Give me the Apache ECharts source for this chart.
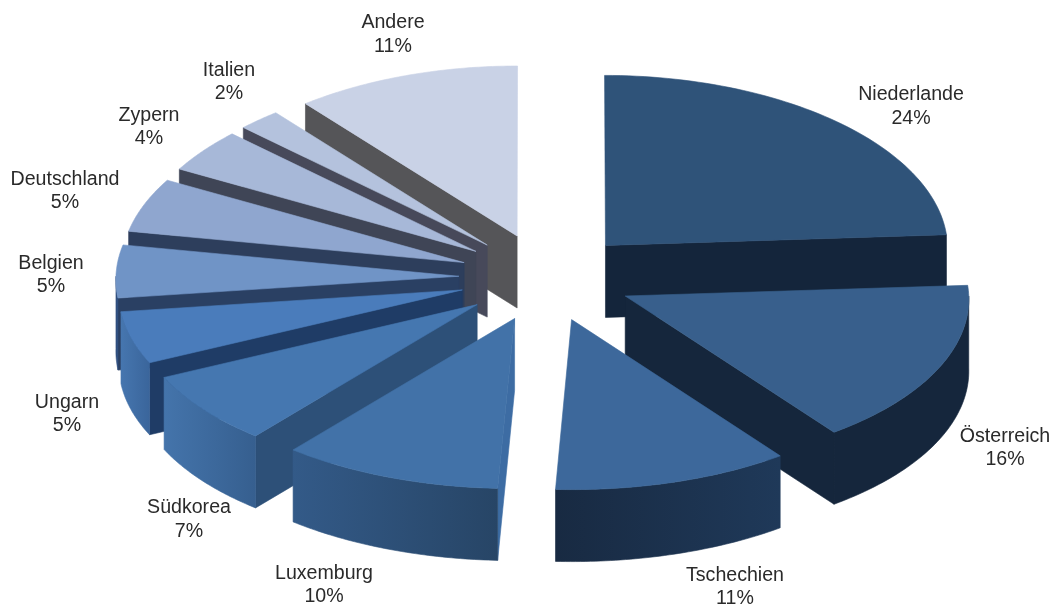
<!DOCTYPE html>
<html>
<head>
<meta charset="utf-8">
<style>html,body{margin:0;padding:0;background:#fff}#c{width:1052px;height:604px}</style>
<script src="https://cdn.jsdelivr.net/npm/echarts@6/dist/echarts.min.js"></script>
</head>
<body>
<div id="c"></div>
<script>
// Data (shares; labels show them rounded)
const categories = ['Niederlande','Österreich','Tschechien','Luxemburg','Südkorea','Ungarn','Belgien','Deutschland','Zypern','Italien','Andere'];
const shares = [24,15.8,10.95,10.2,7,5,5,5.1,4.1,2.05,10.8];

// Appearance
const topColors  = ['#2f5379','#385f8c','#3d689b','#4272a8','#4577b0','#4a7cbb','#7094c6','#8fa6cf','#a7b8d8','#b4c2dd','#c9d2e6'];
const rimColors  = [['#14253b','#14253b'],['#15263c','#15263c'],['#1f3959','#182a42'],['#335a88','#274566'],['#4474ab','#365f8f'],['#4676af','#3a659b'],['#2f4f7f','#2f4f7f'],['#6f86ad','#6f86ad'],['#7e8fb0','#7e8fb0'],['#8a97b2','#8a97b2'],['#9aa4bb','#9aa4bb']];
const faceColors = ['#14253b','#15263c','#1a2d47','#3d6ca3','#2d5078','#1f3c66','#2a4063','#2d3e5c','#3f4556','#47495a','#555558'];
const labelCenters = [[911,106.5],[1005,448],[735,587],[324,585],[189,519.5],[67,414],[51,275],[65,191],[149,127],[229,82],[393,34.5]];

// Projection of the pie
const cx = 546, cy = 277.5, rx = 343, ry = 170, depth = 72;
const explodeX = 0.254, explodeY = 0.262, perspective = 0.015;
const total = shares.reduce((a,b)=>a+b,0);
const deg = Math.PI/180;
const starts = []; { let s = 0; shares.forEach(v => { starts.push(s/total*360); s += v; }); }
function geom(i){
  const a0 = starts[i], a1 = a0 + shares[i]/total*360, m = (a0+a1)/2*deg;
  const ax = cx + explodeX*rx*Math.sin(m), ay = cy - explodeY*168*Math.cos(m);
  const proj = (x,y,dz)=>[cx + (x-cx)*(1+perspective*(y-cy)/ry), y + (dz||0)];
  const pt = (a,dz)=>proj(ax + rx*Math.sin(a*deg), ay - ry*Math.cos(a*deg), dz);
  const apex = dz=>proj(ax,ay,dz);
  return {a0,a1,ay,pt,apex};
}
const drawOrder = categories.map((_,i)=>i).sort((p,q)=>geom(p).ay-geom(q).ay);

function solid(points, fill, z2){
  return {type:'polygon',z2,shape:{points},style:{fill,stroke:fill,lineWidth:0.6}};
}
function renderSlice(params, api){
  const i = api.value(0), g = geom(i), rank = drawOrder.indexOf(i)*10;
  const kids = [];
  const apex=g.apex(), apexB=g.apex(depth);
  // only the radial face that looks towards the viewer
  if (g.a1 <= 180) kids.push(solid([apex,g.pt(g.a1),g.pt(g.a1,depth),apexB], faceColors[i], rank));
  if (g.a0 >= 180) kids.push(solid([apex,g.pt(g.a0),g.pt(g.a0,depth),apexB], faceColors[i], rank));
  const r0 = Math.max(g.a0,90), r1 = Math.min(g.a1,270);
  if (r1 > r0){
    const up=[], down=[];
    for (let k=0;k<=48;k++){ const a=r0+(r1-r0)*k/48; up.push(g.pt(a)); down.unshift(g.pt(a,depth)); }
    const c = rimColors[i];
    const fill = {type:'linear',x:0,y:0,x2:1,y2:0,colorStops:
      (g.a0+g.a1)/2<180 ? [{offset:0,color:c[1]},{offset:1,color:c[0]}] : [{offset:0,color:c[0]},{offset:1,color:c[1]}]};
    kids.push(solid(up.concat(down), fill, rank+2));
  }
  const arc=[apex];
  for (let k=0;k<=64;k++) arc.push(g.pt(g.a0+(g.a1-g.a0)*k/64));
  kids.push(solid(arc, topColors[i], rank+3));
  kids.push({type:'text',z2:500,style:{
    x:labelCenters[i][0],y:labelCenters[i][1],
    text:categories[i]+'\n'+Math.round(shares[i])+'%',align:'center',verticalAlign:'middle',
    fontFamily:'"Liberation Sans",Arial,sans-serif',fontSize:19.6,lineHeight:23.6,fill:'#2a2a2a'}});
  return {type:'group',children:kids};
}

const chart = echarts.init(document.getElementById('c'),null,{renderer:'canvas'});
chart.setOption({
  animation:false,
  backgroundColor:'#ffffff',
  series:[{type:'custom',coordinateSystem:'none',renderItem:renderSlice,
    data:drawOrder.map(i=>[i,shares[i]]),silent:true}]
});
</script>
</body>
</html>
